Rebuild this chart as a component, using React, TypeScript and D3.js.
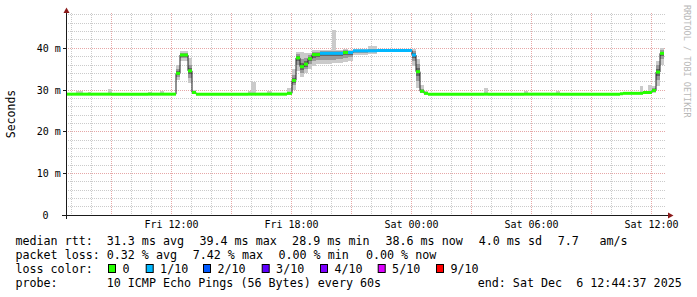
import React from "react";
import * as d3 from "d3";

// ---- data (minutes after window start, Fri Dec 5 2025 06:44:37) ----
const segStart = [0, 30, 51, 66, 75, 126, 138, 246, 258, 282, 294, 330, 342, 366, 378, 390, 546, 555, 570, 603, 618, 663, 678, 690, 702, 714, 726, 738, 750, 762, 798, 810, 831, 846, 861, 906, 933, 1038, 1050, 1062, 1074, 1086, 1254, 1266, 1374, 1386, 1470, 1482, 1662, 1671, 1722, 1731, 1746, 1758, 1770, 1782];
const dataEnd = 1794;
const median = [29.0, 29.0, 29.0, 29.0, 29.0, 29.0, 29.0, 29.0, 29.0, 29.0, 29.0, 34.0, 38.4, 34.6, 29.4, 29.0, 29.0, 29.0, 29.0, 29.0, 29.0, 29.2, 32.3, 37.7, 35.6, 36.2, 37.5, 38.5, 38.5, 38.8, 38.8, 38.8, 39.0, 39.0, 39.4, 39.4, 39.5, 38.4, 34.4, 29.7, 29.2, 29.0, 29.0, 29.0, 29.0, 29.0, 29.0, 29.0, 29.1, 29.2, 29.2, 29.4, 29.4, 29.9, 34.3, 38.8];
const lossLevel = [0, 0, 0, 0, 0, 0, 0, 0, 0, 0, 0, 0, 0, 0, 0, 0, 0, 0, 0, 0, 0, 0, 0, 0, 0, 0, 0, 0, 0, 1, 1, 1, 0, 1, 1, 1, 1, 1, 0, 0, 0, 0, 0, 0, 0, 0, 0, 0, 0, 0, 0, 0, 0, 0, 0, 0];
const smokeLo = [28.8, 28.8, 28.8, 28.8, 28.8, 28.8, 28.8, 28.8, 28.8, 28.8, 28.8, 32.3, 37.0, 31.8, 29.0, 28.8, 28.8, 28.8, 28.8, 28.8, 28.8, 28.9, 30.0, 34.5, 33.2, 34.0, 35.0, 35.8, 36.2, 36.3, 36.5, 36.5, 36.8, 37.0, 38.5, 38.7, 39.1, 35.8, 30.5, 29.2, 28.9, 28.8, 28.8, 28.8, 28.8, 28.8, 28.8, 28.8, 28.9, 29.0, 29.0, 29.2, 29.2, 29.3, 31.0, 36.0];
const smokeHi = [29.2, 29.8, 29.2, 29.6, 29.2, 30.2, 29.2, 29.6, 29.2, 29.8, 29.2, 36.0, 39.3, 37.6, 30.0, 29.2, 29.8, 32.0, 29.2, 29.7, 29.2, 30.4, 35.0, 39.2, 39.2, 38.8, 39.0, 39.6, 39.6, 39.6, 44.3, 39.6, 39.8, 39.6, 39.9, 40.6, 39.8, 39.8, 37.5, 31.2, 29.7, 29.2, 30.4, 29.2, 29.8, 29.2, 29.8, 29.2, 29.3, 29.5, 31.0, 29.7, 31.3, 31.0, 37.0, 40.0];
const coreLo = [28.9, 28.9, 28.9, 28.9, 28.9, 28.9, 28.9, 28.9, 28.9, 28.9, 28.9, 33.2, 37.6, 33.0, 29.2, 28.9, 28.9, 28.9, 28.9, 28.9, 28.9, 29.0, 31.2, 36.0, 34.2, 35.0, 36.2, 37.0, 37.3, 37.3, 37.3, 37.5, 37.8, 38.0, 39.0, 39.1, 39.3, 37.0, 32.2, 29.4, 29.0, 28.9, 28.9, 28.9, 28.9, 28.9, 28.9, 28.9, 29.0, 29.1, 29.1, 29.3, 29.3, 29.6, 32.4, 37.5];
const coreHi = [29.1, 29.2, 29.1, 29.1, 29.1, 29.2, 29.1, 29.1, 29.1, 29.1, 29.1, 35.0, 38.9, 36.0, 29.6, 29.1, 29.1, 29.1, 29.1, 29.1, 29.1, 29.6, 33.6, 38.6, 37.5, 37.6, 38.4, 39.2, 39.2, 39.3, 39.4, 39.3, 39.5, 39.4, 39.7, 39.8, 39.7, 39.3, 36.2, 30.2, 29.4, 29.1, 29.1, 29.1, 29.1, 29.1, 29.1, 29.1, 29.2, 29.3, 29.4, 29.5, 29.6, 30.4, 36.0, 39.5];

const lossLabels = ["0", "1/10", "2/10", "3/10", "4/10", "5/10", "9/10"];
const lossColors = ["#26ff00", "#00b8ff", "#0059ff", "#5e00ff", "#7e00ff", "#dd00ff", "#ff0000"];
const lossBoxX = [108, 145.7, 203, 261.7, 320, 377.7, 436];

const yTickValues = [0, 10, 20, 30, 40];
const yTickLabels = ["0", "10 m", "20 m", "30 m", "40 m"];

const rttLine = [
  ["median rtt:", 16], ["31.3 ms avg", 107.3], ["39.4 ms max", 200], ["28.9 ms min", 292.7],
  ["38.6 ms now", 386], ["4.0 ms sd", 479.3], ["7.7", 558.3], ["am/s", 600],
] as [string, number][];
const lossLine = [
  ["packet loss:", 16], ["0.32 % avg", 107.3], ["7.42 % max", 193.3], ["0.00 % min", 279], ["0.00 % now", 366.5],
] as [string, number][];
const probeLine = [
  ["probe:", 16], ["10 ICMP Echo Pings (56 Bytes) every 60s", 107.3], ["end: Sat Dec  6 12:44:37 2025", 478.3],
] as [string, number][];

const START = new Date(2025, 11, 5, 6, 44, 37);
const END = new Date(2025, 11, 6, 12, 44, 37);
const FONT = "'DejaVu Sans Mono', monospace";

export default function App() {
  const x = d3.scaleTime().domain([START, END]).range([66, 666]);
  const y = d3.scaleLinear().domain([0, 48.48]).range([215, 13]);
  const t = (m: number) => new Date(START.getTime() + m * 60000);
  const snap = (v: number) => Math.floor(v) + 0.5;

  const hours = d3.timeHour.range(START, END);
  const minorY = d3.range(2, 48.1, 2).filter((v) => v % 10 !== 0);
  const majorY = [10, 20, 30, 40];

  const segs = segStart.map((s, i) => ({
    x0: x(t(s)),
    x1: x(t(i + 1 < segStart.length ? segStart[i + 1] : dataEnd)),
    med: median[i],
    loss: lossLevel[i],
    lo: smokeLo[i],
    hi: smokeHi[i],
    cLo: coreLo[i],
    cHi: coreHi[i],
  }));

  const pts: [number, number][] = segs.map((s) => [s.x0, y(s.med)]);
  pts.push([segs[segs.length - 1].x1, y(segs[segs.length - 1].med)]);
  const medPath = d3.line().curve(d3.curveStepAfter)(pts) || "";

  const minorColor = "rgba(140,140,140,0.45)";
  const majorColor = "rgba(200,60,60,0.45)";

  return (
    <svg width={697} height={297} style={{ position: "absolute", left: 0, top: 0, display: "block", background: "#fff" }}>
      <rect x={0} y={0} width={697} height={297} fill="#fff" />
      {/* grid */}
      {hours.filter((h) => h.getHours() % 3 !== 0).map((h, i) => (
        <line key={"vx" + i} x1={snap(x(h))} x2={snap(x(h))} y1={13} y2={215} stroke={minorColor} strokeDasharray="1,1" />
      ))}
      {minorY.map((v, i) => (
        <line key={"hy" + i} x1={66} x2={666} y1={snap(y(v))} y2={snap(y(v))} stroke={minorColor} strokeDasharray="1,1" />
      ))}
      {hours.filter((h) => h.getHours() % 3 === 0).map((h, i) => (
        <line key={"vX" + i} x1={snap(x(h))} x2={snap(x(h))} y1={13} y2={215} stroke={majorColor} strokeDasharray="1,1" />
      ))}
      {majorY.map((v, i) => (
        <line key={"hY" + i} x1={66} x2={666} y1={snap(y(v))} y2={snap(y(v))} stroke={majorColor} strokeDasharray="1,1" />
      ))}
      {/* smoke */}
      <g shapeRendering="crispEdges">
        {segs.map((s, i) => (
          <rect key={"so" + i} x={s.x0} width={s.x1 - s.x0} y={y(s.hi)} height={y(s.lo) - y(s.hi)} fill="#cacaca" />
        ))}
        {segs.map((s, i) => (
          <rect key={"sc" + i} x={s.x0} width={s.x1 - s.x0} y={y(s.cHi)} height={y(s.cLo) - y(s.cHi)} fill="#9a9a9a" />
        ))}
        {segs.map((s, i) => {
          const a = (s.cHi + s.med) / 2;
          const b = (s.cLo + s.med) / 2;
          return <rect key={"si" + i} x={s.x0} width={s.x1 - s.x0} y={y(a)} height={y(b) - y(a)} fill="#666" />;
        })}
      </g>
      {/* median */}
      <path d={medPath} fill="none" stroke="#202020" strokeWidth={1} />
      {segs.map((s, i) => (
        <line key={"ml" + i} x1={s.x0} x2={s.x1} y1={y(s.med)} y2={y(s.med)} stroke={lossColors[s.loss]} strokeWidth={3} />
      ))}
      {/* axes */}
      <line x1={62} x2={669} y1={215.5} y2={215.5} stroke="#1a1a1a" />
      <line x1={66.5} x2={66.5} y1={12} y2={219} stroke="#1a1a1a" />
      {majorY.map((v, i) => (
        <line key={"yt" + i} x1={63} x2={66} y1={snap(y(v))} y2={snap(y(v))} stroke="#1a1a1a" />
      ))}
      <path d="M668,212.5 L673.5,215.5 L668,218.5 Z" fill="#8b1a1a" />
      <path d="M63.5,13 L66.5,7.5 L69.5,13 Z" fill="#8b1a1a" />
      {/* y labels */}
      {yTickValues.map((v, i) => (
        <text key={"yl" + i} x={v === 0 ? 48.5 : 60.8} y={snap(y(v)) + 3.5} textAnchor="end" fontFamily={FONT} fontSize={10} fill="#000">
          {yTickLabels[i]}
        </text>
      ))}
      {/* x labels */}
      {hours.filter((h) => h.getHours() % 6 === 0).map((h, i) => (
        <text key={"xl" + i} x={snap(x(h))} y={228} textAnchor="middle" fontFamily={FONT} fontSize={10} fill="#000">
          {d3.timeFormat("%a %H:%M")(h)}
        </text>
      ))}
      <text transform="translate(14.5,114) rotate(-90)" textAnchor="middle" fontFamily={FONT} fontSize={11.5} fill="#000">Seconds</text>
      <text transform="translate(684,5) rotate(90)" fontFamily={FONT} fontSize={8.5} fill="#b8b8b8">RRDTOOL / TOBI OETIKER</text>
      {/* legend */}
      {[rttLine, lossLine].map((line, li) =>
        line.map(([s, px], k) => (
          <text key={"lg" + li + "_" + k} x={px - 0.6} y={245 + li * 14} fontFamily={FONT} fontSize={11.7} fill="#000" style={{ whiteSpace: "pre" }}>
            {s}
          </text>
        ))
      )}
      <text x={15.4} y={273} fontFamily={FONT} fontSize={11.7} fill="#000">loss color:</text>
      {lossLabels.map((lab, i) => (
        <g key={"lc" + i}>
          <rect x={lossBoxX[i] + 0.5} y={264.5} width={7} height={8} fill={lossColors[i]} stroke="#000" />
          <text x={lossBoxX[i] + 14.4} y={273} fontFamily={FONT} fontSize={11.7} fill="#000">{lab}</text>
        </g>
      ))}
      {probeLine.map(([s, px], k) => (
        <text key={"pr" + k} x={px - 0.6} y={287} fontFamily={FONT} fontSize={11.7} fill="#000" style={{ whiteSpace: "pre" }}>
          {s}
        </text>
      ))}
    </svg>
  );
}
